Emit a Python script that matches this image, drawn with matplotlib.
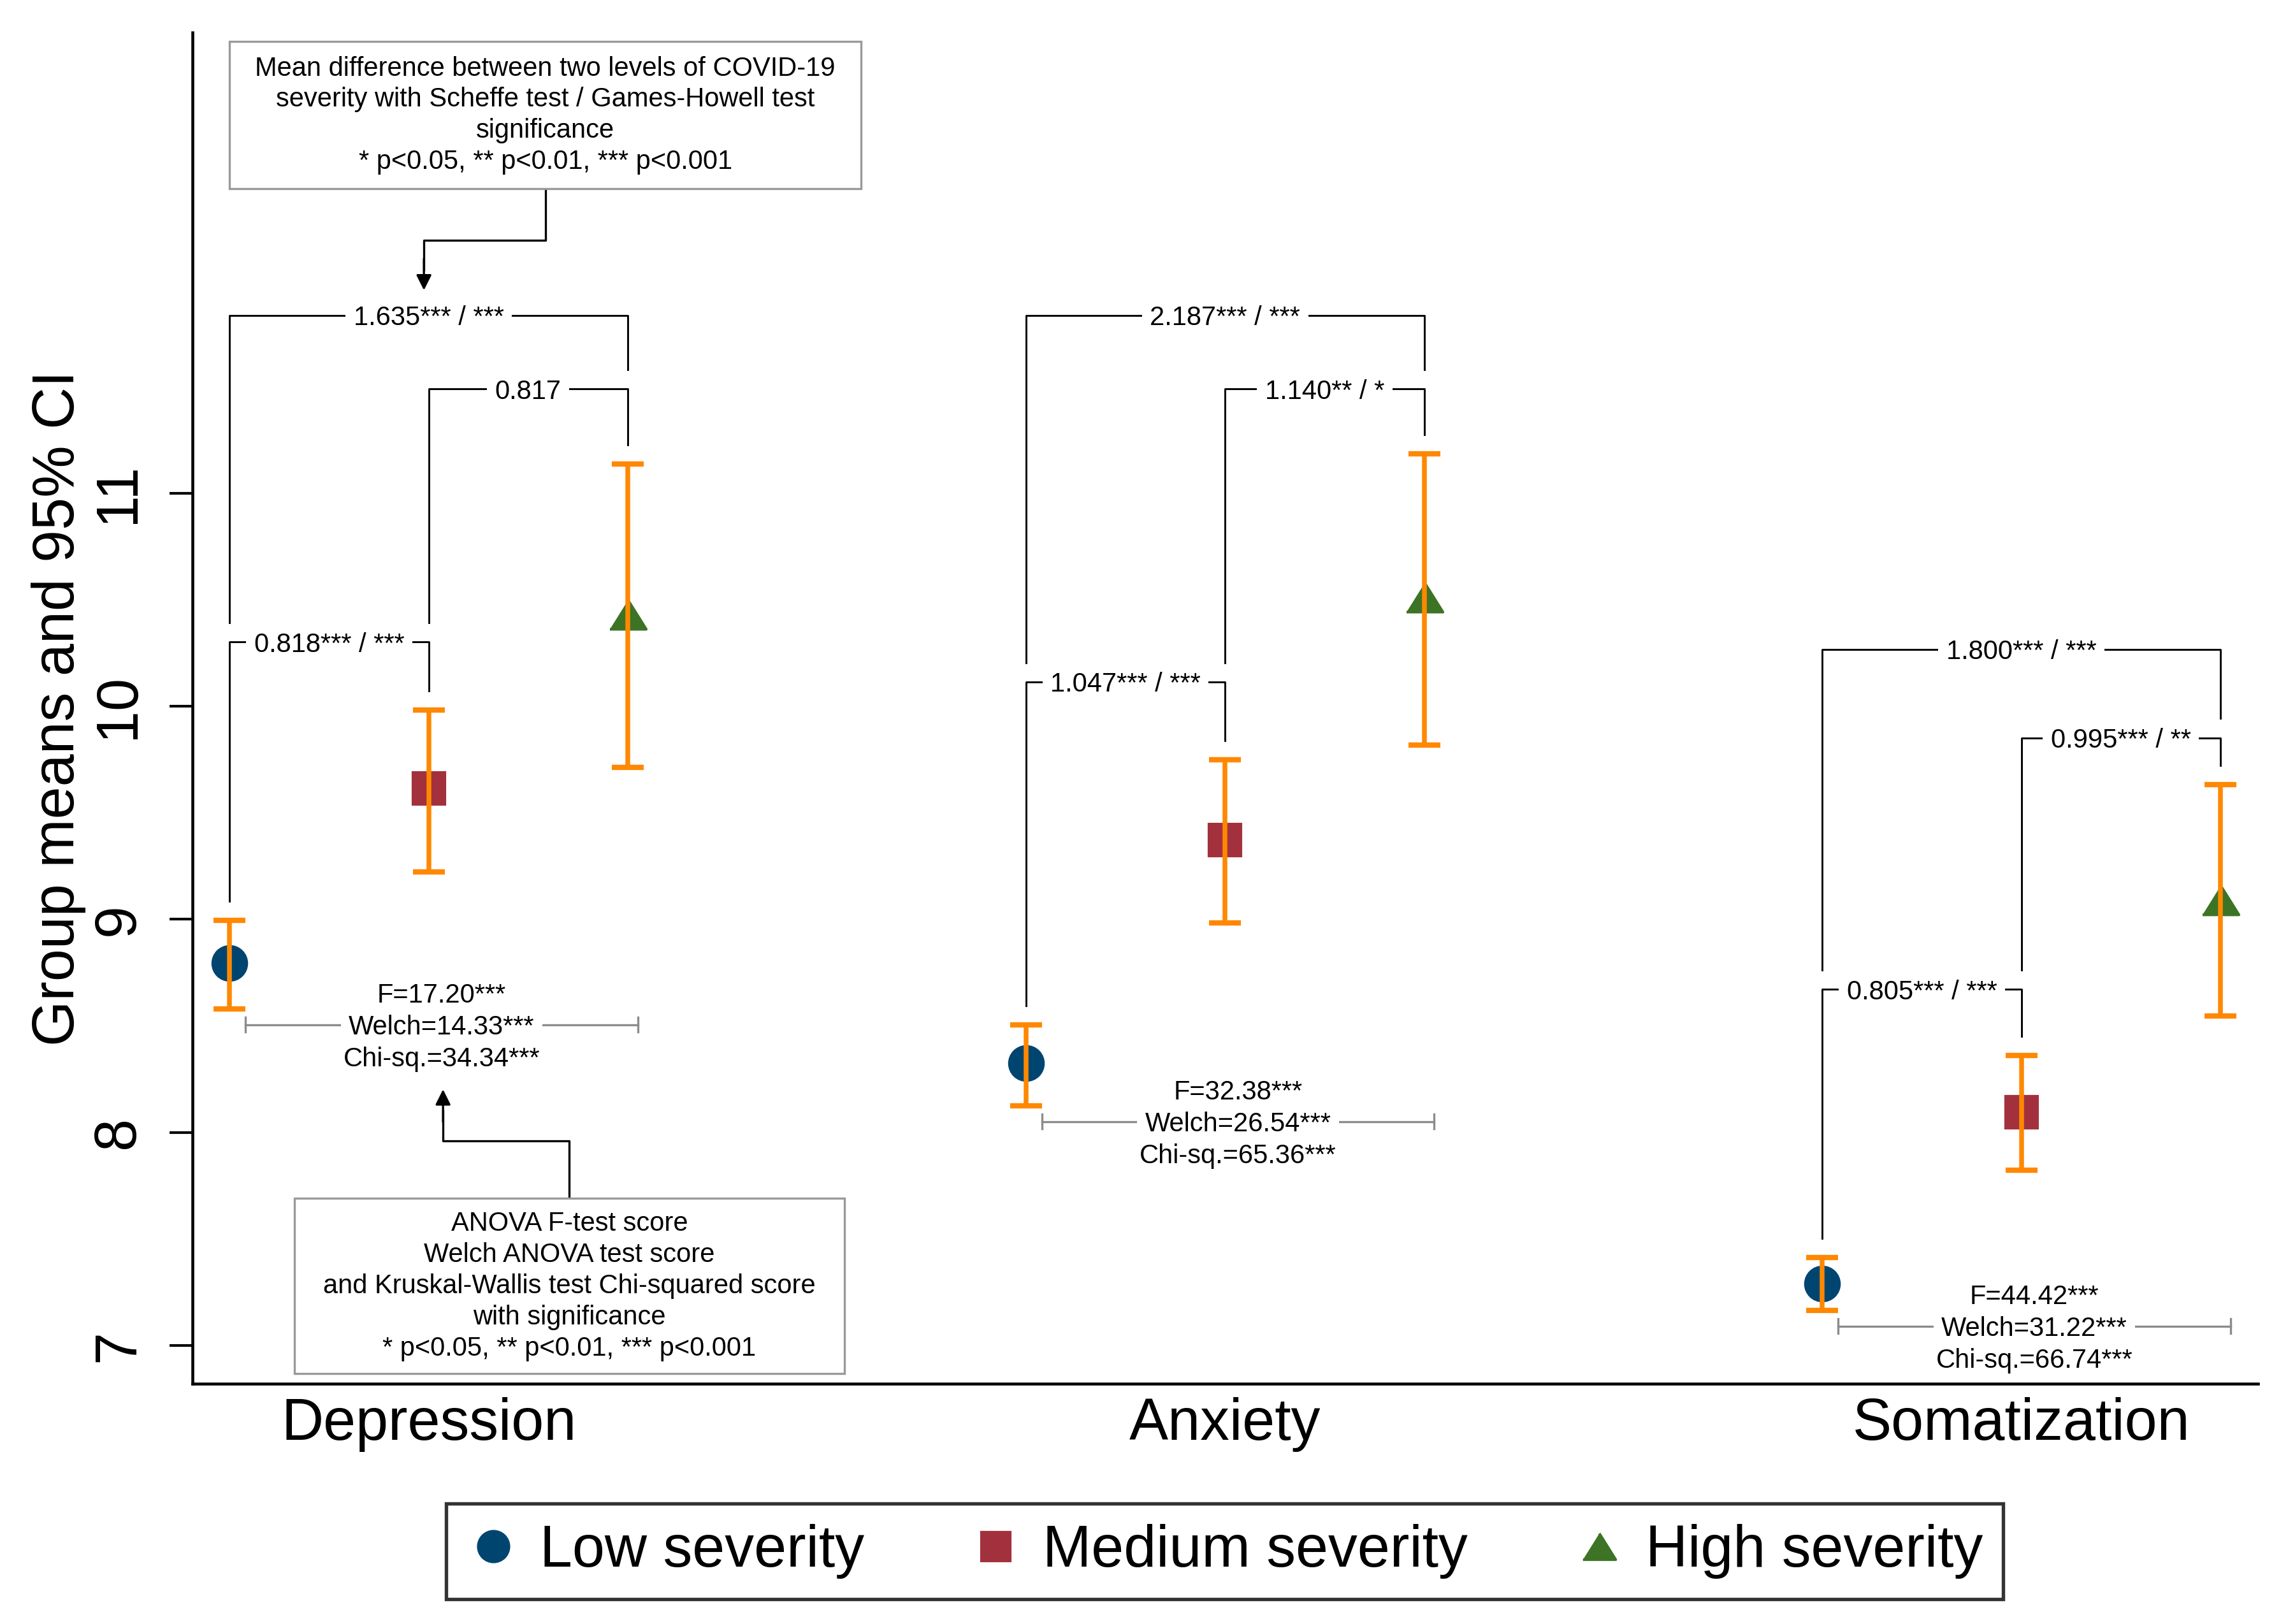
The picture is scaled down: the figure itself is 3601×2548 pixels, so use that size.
import matplotlib
matplotlib.use("Agg")
import matplotlib.pyplot as plt
from matplotlib.lines import Line2D
from matplotlib.patches import Rectangle
import numpy as np

plt.rcParams["font.family"] = ["Liberation Sans", "DejaVu Sans"]

# ── data ─────────────────────────────────────────────────────────────────────
CATEGORIES = ["Depression", "Anxiety", "Somatization"]
LEVELS = ["Low severity", "Medium severity", "High severity"]

MEAN_LOW = [8.796, 8.326, 7.290]
MEAN_MED = [9.614, 9.373, 8.095]
MEAN_HIGH = [10.431, 10.513, 9.090]

CI_LO_LOW = [8.581, 8.126, 7.166]
CI_HI_LOW = [8.996, 8.506, 7.414]
CI_LO_MED = [9.224, 8.982, 7.822]
CI_HI_MED = [9.983, 9.749, 8.360]
CI_LO_HIGH = [9.714, 9.818, 8.547]
CI_HI_HIGH = [11.137, 11.185, 9.631]

# mean differences, Scheffe / Games-Howell significance
DIFF_LOW_MED = ["0.818*** / ***", "1.047*** / ***", "0.805*** / ***"]
DIFF_MED_HIGH = ["0.817", "1.140** / *", "0.995*** / **"]
DIFF_LOW_HIGH = ["1.635*** / ***", "2.187*** / ***", "1.800*** / ***"]

F_STAT = ["17.20***", "32.38***", "44.42***"]
WELCH_STAT = ["14.33***", "26.54***", "31.22***"]
CHISQ_STAT = ["34.34***", "65.36***", "66.74***"]

# bracket heights (annotation layout)
BR_LOW_MED_Y = [10.301, 10.115, 8.671]
BR_MED_HIGH_Y = [11.489, 11.489, 9.852]
BR_LOW_HIGH_Y = [11.834, 11.834, 10.267]

COLORS = ["#004570", "#A3313D", "#3D7325"]
MARKERS = ["o", "s", [(-1, -0.8), (1, -0.8), (0, 0.8)]]
MSIZE = [12.8, 12.0, 13.7]
ORANGE = "#FF8800"
GAP = 0.09

means = np.array([MEAN_LOW, MEAN_MED, MEAN_HIGH])
ci_lo = np.array([CI_LO_LOW, CI_LO_MED, CI_LO_HIGH])
ci_hi = np.array([CI_HI_LOW, CI_HI_MED, CI_HI_HIGH])

fig = plt.figure(figsize=(3601 / 300, 2548 / 300), dpi=300)
ax = fig.add_axes([0.084, 0.1478, 0.900, 0.832])

for g in range(len(CATEGORIES)):
    xs = g * 4 + np.arange(3)
    for k in range(3):
        ax.plot(xs[k], means[k, g], marker=MARKERS[k], color=COLORS[k],
                markersize=MSIZE[k], linestyle="none", zorder=3)
    ax.errorbar(xs, means[:, g], yerr=[means[:, g] - ci_lo[:, g], ci_hi[:, g] - means[:, g]],
                fmt="none", ecolor=ORANGE, elinewidth=1.8, capsize=6, capthick=2, zorder=4)

    # pairwise brackets
    pairs = [(0, 1, BR_LOW_MED_Y[g], DIFF_LOW_MED[g]),
             (1, 2, BR_MED_HIGH_Y[g], DIFF_MED_HIGH[g]),
             (0, 2, BR_LOW_HIGH_Y[g], DIFF_LOW_HIGH[g])]
    for a, b, y, lab in pairs:
        ends = []
        for k in (a, b):
            below = [ci_hi[k, g]] + [yy for (p, q, yy, _) in pairs if k in (p, q) and yy < y]
            ends.append(max(below) + GAP)
        ax.plot([xs[a], xs[a], xs[b], xs[b]], [ends[0], y, y, ends[1]],
                color="black", lw=0.7, zorder=2)
        ax.text((xs[a] + xs[b]) / 2, y, lab, ha="center", va="center_baseline", fontsize=10,
                bbox=dict(boxstyle="square,pad=0.3", fc="white", ec="none"), zorder=5)

    # omnibus test statistics
    sy = ci_lo[0, g] - 0.075
    x0, x1 = xs[0] + 0.08, xs[2] + 0.05
    ax.plot([x0, x1], [sy, sy], color="#8C8C8C", lw=0.8, zorder=2)
    for xe in (x0, x1):
        ax.plot([xe, xe], [sy - 0.035, sy + 0.035], color="#8C8C8C", lw=0.8, zorder=2)
    xm = (x0 + x1) / 2
    ax.annotate(f"F={F_STAT[g]}", (xm, sy), xytext=(0, 12), textcoords="offset points",
                ha="center", va="center_baseline", fontsize=10, zorder=5)
    ax.text(xm, sy, f"Welch={WELCH_STAT[g]}", ha="center", va="center_baseline", fontsize=10,
            bbox=dict(boxstyle="square,pad=0.3", fc="white", ec="none"), zorder=5)
    ax.annotate(f"Chi-sq.={CHISQ_STAT[g]}", (xm, sy), xytext=(0, -12), textcoords="offset points",
                ha="center", va="center_baseline", fontsize=10, zorder=5)

# ── explanatory call-out boxes ──────────────────────────────────────────────
ax.add_patch(Rectangle((0.0, 12.428), 3.171, 0.691, fc="white", ec="#9A9A9A", lw=0.8, zorder=5))
ax.text(1.586, 12.7735,
        "Mean difference between two levels of COVID-19\n"
        "severity with Scheffe test / Games-Howell test\n"
        "significance\n* p<0.05, ** p<0.01, *** p<0.001",
        ha="center", va="center", fontsize=10, linespacing=1.28, zorder=6)
ax.plot([1.586, 1.586, 0.976, 0.976], [12.428, 12.186, 12.186, 12.05], color="black", lw=0.8)
ax.annotate("", xy=(0.976, 11.952), xytext=(0.976, 12.10),
            arrowprops=dict(arrowstyle="-|>", color="black", lw=0.8, mutation_scale=12,
                            shrinkA=0, shrinkB=0))

ax.add_patch(Rectangle((0.325, 6.869), 2.764, 0.822, fc="white", ec="#9A9A9A", lw=0.8, zorder=5))
ax.text(1.707, 7.28,
        "ANOVA F-test score\nWelch ANOVA test score\n"
        "and Kruskal-Wallis test Chi-squared score\nwith significance\n"
        "* p<0.05, ** p<0.01, *** p<0.001",
        ha="center", va="center", fontsize=10, linespacing=1.29, zorder=6)
ax.plot([1.707, 1.707, 1.072, 1.072], [7.691, 7.96, 7.96, 8.10], color="black", lw=0.8)
ax.annotate("", xy=(1.072, 8.202), xytext=(1.072, 8.05),
            arrowprops=dict(arrowstyle="-|>", color="black", lw=0.8, mutation_scale=12,
                            shrinkA=0, shrinkB=0))

# ── axes styling ────────────────────────────────────────────────────────────
ax.set_xlim(-0.185, 10.19)
ax.set_ylim(6.82, 13.16)
ax.set_xticks([1, 5, 9])
ax.set_xticklabels(CATEGORIES, fontsize=22)
ax.tick_params(axis="x", length=0, pad=5)
ax.set_yticks([7, 8, 9, 10, 11])
ax.set_yticklabels(["7", "8", "9", "10", "11"], fontsize=22, rotation=90, va="center")
ax.tick_params(axis="y", length=8.6, width=1.0, pad=9)
ax.set_ylabel("Group means and 95% CI", fontsize=22, labelpad=2)
for s in ("top", "right"):
    ax.spines[s].set_visible(False)
for s in ("left", "bottom"):
    ax.spines[s].set_linewidth(1.1)

handles = [Line2D([0], [0], marker=MARKERS[k], color=COLORS[k], markersize=MSIZE[k] * 0.9,
                  linestyle="none") for k in range(3)]
leg = fig.legend(handles, LEVELS, loc="center", bbox_to_anchor=(0.5337, 0.0449), ncol=3,
                 fontsize=22, frameon=True, fancybox=False, edgecolor="black",
                 handlelength=0.9, handletextpad=0.35, columnspacing=1.8, borderpad=0.35)
leg.get_frame().set_linewidth(1.3)

fig.savefig("out.png", dpi=300)
